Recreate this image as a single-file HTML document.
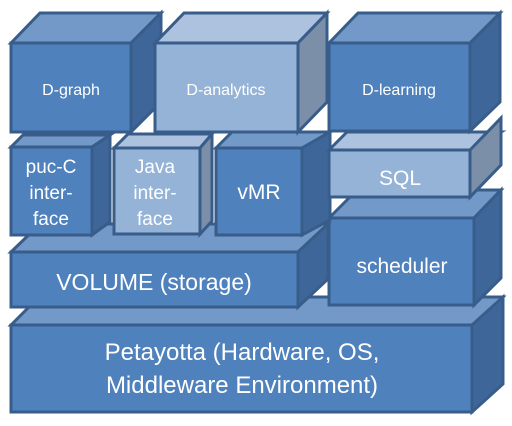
<!DOCTYPE html>
<html><head><meta charset="utf-8"><style>
html,body{margin:0;padding:0;background:#fff;}
svg{display:block}
text{font-family:"Liberation Sans","DejaVu Sans",sans-serif;fill:#fff;text-anchor:middle}
</style></head><body>
<svg width="512" height="426" viewBox="0 0 512 426" xmlns="http://www.w3.org/2000/svg">
<g stroke="#385d8a" stroke-width="3" stroke-linejoin="miter">
<polygon points="11,325 39,297 503,297 475,325" fill="#7399c9"/>
<polygon points="472,325 503,297 503,384 472,412" fill="#3f6698"/>
<rect x="11" y="325" width="461" height="87" fill="#4f81bd"/>
<polygon points="329,218 357,190 501,190 474,218" fill="#7399c9"/>
<polygon points="474,218 501,190 501,278 474,305" fill="#3f6698"/>
<rect x="329" y="218" width="145" height="87" fill="#4f81bd"/>
<polygon points="11,252 40,224 328,224 298,252" fill="#7399c9"/>
<polygon points="298,252 328,224 328,279 298,307" fill="#3f6698"/>
<rect x="11" y="252" width="287" height="55" fill="#4f81bd"/>
<polygon points="11,147 23,135 110,135 92,147" fill="#7399c9"/>
<polygon points="92,147 110,135 110,222 92,235" fill="#3f6698"/>
<rect x="11" y="147" width="81" height="88" fill="#4f81bd"/>
<polygon points="114,148 128,134 212,134 200,148" fill="#adc2df"/>
<polygon points="200,148 212,134 212,221 200,234" fill="#7c8fa8"/>
<rect x="114" y="148" width="86" height="86" fill="#95b3d7"/>
<polygon points="216,148 232,132 330,132 302,148" fill="#7399c9"/>
<polygon points="302,148 330,132 330,220 302,235" fill="#3f6698"/>
<rect x="216" y="148" width="86" height="87" fill="#4f81bd"/>
<polygon points="329,150 347,132 501,132 470,150" fill="#adc2df"/>
<polygon points="470,150 501,118 501,165 470,197" fill="#7c8fa8"/>
<rect x="329" y="150" width="141" height="47" fill="#95b3d7"/>
<polygon points="11,43 40,13 161,13 131,43" fill="#7399c9"/>
<polygon points="131,43 161,13 161,102 131,132" fill="#3f6698"/>
<rect x="11" y="43" width="120" height="89" fill="#4f81bd"/>
<polygon points="155,43 184,13 327,13 298,43" fill="#adc2df"/>
<polygon points="298,43 327,13 327,102 298,132" fill="#7c8fa8"/>
<rect x="155" y="43" width="143" height="89" fill="#95b3d7"/>
<polygon points="329,43 358,13 500,13 470,43" fill="#7399c9"/>
<polygon points="470,43 500,13 500,102 470,131" fill="#3f6698"/>
<rect x="329" y="43" width="141" height="88" fill="#4f81bd"/>
</g>
<text x="71" y="95" font-size="16">D-graph</text>
<text x="226" y="95" font-size="16">D-analytics</text>
<text x="399" y="95" font-size="16">D-learning</text>
<text x="51" y="173" font-size="19">puc-C</text>
<text x="51" y="199" font-size="19">inter-</text>
<text x="51" y="225" font-size="19">face</text>
<text x="155" y="173" font-size="19">Java</text>
<text x="155" y="199" font-size="19">inter-</text>
<text x="155" y="225" font-size="19">face</text>
<text x="259" y="199" font-size="21">vMR</text>
<text x="400" y="185" font-size="21">SQL</text>
<text x="402" y="273" font-size="21">scheduler</text>
<text x="154" y="290" font-size="23">VOLUME (storage)</text>
<text x="242" y="360" font-size="24">Petayotta (Hardware, OS,</text>
<text x="242" y="393" font-size="24">Middleware Environment)</text>
</svg>
</body></html>
